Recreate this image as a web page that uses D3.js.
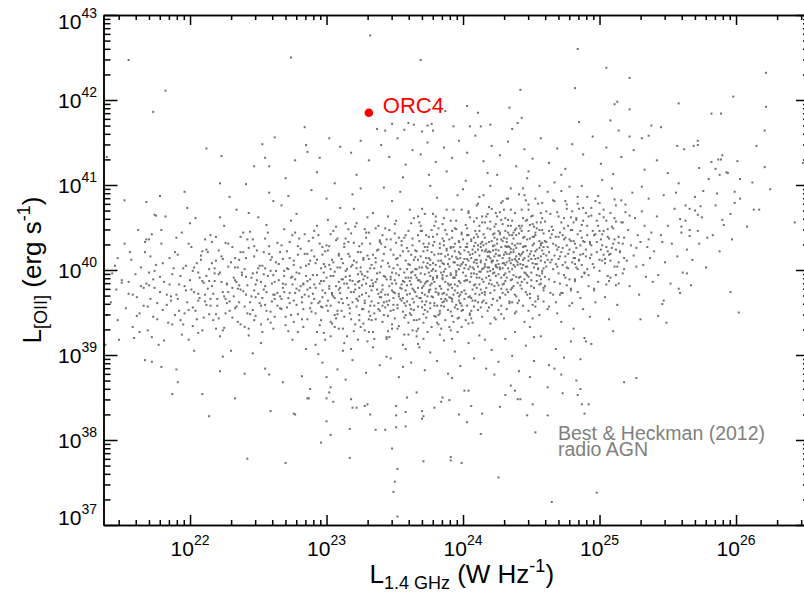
<!DOCTYPE html>
<html>
<head>
<meta charset="utf-8">
<script src="https://cdnjs.cloudflare.com/ajax/libs/d3/7.8.5/d3.min.js"></script>
<style>
  body { margin: 0; background: #fff; }
  svg { display: block; font-family: "Liberation Sans", Arial, Helvetica, sans-serif; }
</style>
</head>
<body>
<div id="chart"></div>
<script>
// every pair is [log10 L_1.4GHz (W/Hz), log10 L_[OII] (erg/s)]

// log L1.4 < 22.9
const agnFaint = [
[21.42,39.62],[21.45,40.05],[21.47,39.41],[21.50,39.88],[21.52,40.31],[21.53,39.55],[21.55,39.72],[21.57,40.12],[21.58,39.33],[21.60,39.95],
[21.61,39.68],[21.62,40.47],[21.63,39.49],[21.64,39.81],[21.46,39.77],
[21.66,39.58],[21.67,40.21],[21.68,39.84],[21.69,39.29],[21.70,39.97],[21.71,39.66],[21.72,40.42],[21.73,39.45],[21.74,39.79],[21.75,40.06],
[21.76,39.61],[21.77,39.12],[21.78,39.92],[21.79,40.31],[21.80,39.53],[21.81,39.86],[21.82,40.63],[21.83,39.71],[21.84,39.38],[21.85,40.14],
[21.86,39.64],[21.87,39.95],[21.88,40.02],[21.89,39.47],[21.70,39.82],
[21.90,39.71],[21.91,40.18],[21.92,39.52],[21.93,39.93],[21.94,40.44],[21.95,39.36],[21.96,39.81],[21.97,40.05],[21.98,39.62],[21.99,39.18],
[22.00,39.88],[22.01,40.27],[22.02,39.56],[22.03,39.74],[22.04,40.61],[22.05,39.42],[22.06,39.97],[22.07,39.67],[22.08,40.12],[22.09,39.29],
[22.10,39.85],[22.11,40.36],[22.12,39.59],[22.13,39.78],[22.14,40.01],[21.92,39.83],[21.96,39.49],[22.00,40.55],[22.03,39.05],[22.06,39.72],
[22.09,40.22],[22.12,39.93],[21.98,40.73],[22.14,39.48],[22.02,39.99],
[22.15,39.66],[22.16,40.08],[22.17,39.41],[22.18,39.87],[22.19,40.39],[22.20,39.58],[22.21,39.95],[22.22,39.22],[22.23,40.16],[22.24,39.74],
[22.25,40.52],[22.26,39.49],[22.27,39.83],[22.28,40.04],[22.29,39.63],[22.30,39.05],[22.31,40.27],[22.32,39.91],[22.33,39.55],[22.34,40.71],
[22.35,39.78],[22.36,40.12],[22.37,39.36],[22.38,39.97],[22.39,40.44],[22.16,39.81],[22.19,39.31],[22.22,40.62],[22.25,39.69],[22.28,40.31],
[22.31,39.44],[22.34,39.86],[22.37,40.21],[22.18,40.02],[22.24,38.98],[22.29,40.86],[22.33,40.03],[22.36,39.62],[22.39,39.75],[22.21,40.23],
[22.40,39.57],[22.41,40.14],[22.42,39.82],[22.43,39.31],[22.44,40.45],[22.45,39.69],[22.46,39.96],[22.47,40.28],[22.48,39.46],[22.49,39.88],
[22.50,40.62],[22.51,39.61],[22.52,39.14],[22.53,40.05],[22.54,39.77],[22.55,40.37],[22.56,39.52],[22.57,39.93],[22.58,40.19],[22.59,39.38],
[22.60,39.84],[22.61,40.81],[22.62,39.66],[22.63,40.09],[22.64,39.73],[22.41,39.92],[22.44,39.48],[22.47,39.76],[22.50,40.02],[22.53,39.27],
[22.56,40.53],[22.59,39.99],[22.62,39.45],[22.43,40.67],[22.46,39.02],[22.49,40.23],[22.52,39.86],[22.55,39.59],[22.58,40.91],[22.61,39.71],
[22.64,40.32],[22.42,40.36],[22.48,39.68],[22.54,39.95],[22.60,40.15],
[22.65,39.88],[22.66,40.21],[22.67,39.54],[22.68,39.79],[22.69,40.48],[22.70,39.35],[22.71,40.02],[22.72,39.67],[22.73,40.33],[22.74,39.91],
[22.75,39.18],[22.76,40.11],[22.77,39.73],[22.78,40.66],[22.79,39.48],[22.80,39.96],[22.81,40.25],[22.82,39.62],[22.83,39.84],[22.84,40.42],
[22.85,39.07],[22.86,39.77],[22.87,40.07],[22.88,39.55],[22.89,40.94],[22.66,39.69],[22.68,40.13],[22.70,39.83],[22.72,39.28],[22.74,40.58],
[22.76,39.64],[22.78,39.97],[22.80,40.37],[22.82,39.42],[22.84,39.71],[22.86,40.19],[22.88,39.89],[22.67,40.76],[22.71,39.56],[22.75,39.92],
[22.79,40.28],[22.83,39.33],[22.87,39.69],[22.69,39.99],[22.73,39.61],[22.77,40.44],[22.81,39.81],[22.85,40.05],[22.89,39.51],[22.72,40.87],
[21.58,39.71],[21.61,39.46],[21.64,40.03],[21.66,39.79],[21.69,39.57],[21.71,40.16],[21.73,39.89],[21.76,39.42],[21.78,39.74],[21.80,40.08],
[21.83,39.59],[21.85,39.83],[21.87,39.36],[21.89,40.21],[21.91,39.66],[21.93,39.41],[21.95,40.02],[21.97,39.76],[21.99,39.53],[21.63,39.27],
[21.72,39.21],[21.81,39.17],[21.94,39.24],[21.56,40.21],[21.67,40.33],[21.79,40.47],[21.90,40.38],[21.99,40.31],[21.74,39.99],[21.86,39.69],
[22.02,39.34],[22.05,40.08],[22.07,39.91],[22.11,39.63],[22.13,40.21],[22.17,39.72],[22.19,39.48],[22.23,39.86],[22.26,40.32],[22.27,39.61],
[22.31,39.79],[22.33,40.14],[22.35,39.39],[22.38,39.94],[22.41,39.71],[22.43,40.26],[22.46,39.53],[22.48,39.83],[22.51,40.05],[22.53,39.67],
[22.57,39.42],[22.59,40.12],[22.62,39.86],[22.64,39.58],[22.67,40.29],[22.69,39.74],[22.72,40.01],[22.74,39.47],[22.77,39.89],[22.79,40.18],
[22.82,39.68],[22.85,39.93],[22.87,40.34],[22.89,39.61],[22.01,39.77],[22.04,39.52],[22.08,40.17],[22.10,39.44],[22.14,39.87],[22.16,40.33],
[22.20,39.66],[22.22,39.97],[22.25,39.32],[22.28,39.74],[22.30,40.09],[22.34,39.57],[22.36,39.82],[22.39,40.21],[22.42,39.49],[22.45,39.91],
[22.47,40.16],[22.50,39.72],[22.52,39.36],[22.55,39.81],[22.58,40.28],[22.60,39.63],[22.63,39.99],[22.66,39.55],[22.68,39.84],[22.71,40.22],
[22.73,39.73],[22.76,39.39],[22.78,39.78],[22.81,40.03],[22.83,39.54],[22.86,39.87],[22.88,40.11],[22.03,40.03],[22.06,39.64],[22.09,39.87],
[22.12,40.24],[22.15,39.58],[22.18,39.96],[22.21,39.43],[22.24,40.13],[22.27,39.84],[22.29,39.52],[22.32,39.69],[22.35,40.03],[22.37,39.77],
[22.40,39.33],[22.44,39.62],[22.46,40.36],[22.49,39.97],[22.52,39.58],[22.54,40.21],[22.56,39.74],[22.59,39.51],[22.61,39.94],[22.65,40.07],
[22.67,39.66],[22.70,39.45],[22.73,40.14],[22.75,39.83],[22.78,39.59],[22.80,39.76],[22.84,40.19],[22.86,39.42],[22.88,39.79],[22.11,39.71],
[22.19,40.11],[22.26,39.66],[22.33,39.88],[22.40,40.01],[22.47,39.41],[22.55,40.02],[22.62,39.71],[22.69,39.93],[22.76,40.06],[22.83,39.83],
[22.06,39.26],[22.24,39.29],[22.43,39.23],[22.61,39.31],[22.79,39.27],[22.15,40.41],[22.37,40.39],[22.57,40.44],[22.75,40.41],[22.89,40.23]
];

// 22.9 - 23.9
const agnMid = [
[22.90,39.72],[22.91,40.16],[22.92,39.49],[22.93,39.94],[22.94,40.41],[22.95,39.63],[22.96,39.87],[22.97,40.27],[22.98,39.26],[22.99,40.04],
[23.00,39.58],[23.01,40.59],[23.02,39.81],[23.03,39.39],[23.04,40.12],[23.05,39.69],[23.06,39.98],[23.07,40.35],[23.08,39.52],[23.09,39.86],
[23.10,40.73],[23.11,39.66],[23.12,40.08],[23.13,39.14],[23.14,39.92],[22.91,39.83],[22.93,40.52],[22.95,39.35],[22.97,39.76],[22.99,40.22],
[23.01,39.64],[23.03,40.01],[23.05,40.46],[23.07,39.43],[23.09,40.17],[23.11,39.89],[23.13,40.31],[22.92,40.08],[22.96,39.57],[23.00,40.84],
[23.04,39.73],[23.08,40.03],[23.12,39.61],[22.94,39.01],[22.98,39.97],[23.02,40.28],[23.06,39.47],[23.10,39.79],[23.14,40.55],[22.90,40.38],
[22.97,39.68],[23.03,39.93],[23.09,39.31],[23.13,39.84],[23.06,41.02],
[23.15,39.67],[23.16,40.19],[23.17,39.88],[23.18,39.42],[23.19,40.06],[23.20,39.74],[23.21,40.51],[23.22,39.57],[23.23,39.95],[23.24,40.28],
[23.25,39.33],[23.26,39.82],[23.27,40.12],[23.28,39.64],[23.29,40.38],[23.30,39.91],[23.31,39.51],[23.32,40.02],[23.33,39.76],[23.34,40.67],
[23.35,39.19],[23.36,39.86],[23.37,40.23],[23.38,39.61],[23.39,39.97],[23.16,39.79],[23.18,40.43],[23.20,39.28],[23.22,40.09],[23.24,39.69],
[23.26,40.31],[23.28,39.93],[23.30,40.62],[23.32,39.46],[23.34,39.84],[23.36,40.14],[23.38,39.72],[23.17,39.55],[23.19,40.89],[23.21,39.83],
[23.23,40.21],[23.25,39.98],[23.27,39.37],[23.29,39.73],[23.31,40.44],[23.33,40.06],[23.35,39.58],[23.37,39.89],[23.39,40.35],[23.15,40.01],
[23.18,39.07],[23.22,39.66],[23.26,39.54],[23.30,40.17],[23.34,39.27],[23.38,40.52],[23.20,40.72],[23.24,39.87],[23.28,40.48],[23.32,39.81],
[23.36,39.42],[23.16,40.33],[23.25,40.96],[23.33,39.63],[23.39,39.52],
[23.40,39.68],[23.41,40.11],[23.42,39.47],[23.43,39.92],[23.44,40.36],[23.45,39.59],[23.46,39.81],[23.47,40.24],[23.48,39.36],[23.49,40.02],
[23.50,39.73],[23.51,40.58],[23.52,39.55],[23.53,39.94],[23.54,40.17],[23.55,39.64],[23.56,39.12],[23.57,39.86],[23.58,40.41],[23.59,39.71],
[23.60,40.07],[23.61,39.49],[23.62,39.97],[23.63,40.29],[23.64,39.62],[23.41,39.77],[23.43,40.49],[23.45,39.28],[23.47,39.89],[23.49,39.53],
[23.51,40.13],[23.53,39.69],[23.55,40.34],[23.57,39.44],[23.59,40.01],[23.61,40.71],[23.63,39.78],[23.42,40.19],[23.44,39.63],[23.46,40.04],
[23.48,39.84],[23.50,40.43],[23.52,39.31],[23.54,39.79],[23.56,40.22],[23.58,39.58],[23.60,39.91],[23.62,40.55],[23.64,39.41],[23.40,40.31],
[23.44,38.98],[23.48,40.81],[23.52,40.06],[23.56,39.67],[23.60,39.24],[23.64,40.12],[23.43,39.71],[23.47,39.52],[23.51,39.96],[23.55,39.83],
[23.59,40.26],[23.63,39.66],[23.41,39.39],[23.45,40.63],[23.49,39.74],[23.53,40.38],[23.57,39.61],[23.61,39.87],[23.46,39.21],[23.50,39.88],
[23.54,40.92],[23.58,39.76],[23.62,39.54],[23.42,40.97],[23.60,40.46],
[23.65,39.74],[23.66,40.22],[23.67,39.57],[23.68,40.03],[23.69,39.86],[23.70,40.46],[23.71,39.48],[23.72,39.95],[23.73,40.14],[23.74,39.69],
[23.75,40.31],[23.76,39.82],[23.77,39.33],[23.78,40.08],[23.79,39.61],[23.80,40.57],[23.81,39.91],[23.82,40.19],[23.83,39.52],[23.84,39.78],
[23.85,40.37],[23.86,39.98],[23.87,39.66],[23.88,40.25],[23.89,39.84],[23.66,39.91],[23.68,39.42],[23.70,39.79],[23.72,40.27],[23.74,40.02],
[23.76,39.55],[23.78,40.66],[23.80,39.74],[23.82,39.47],[23.84,40.11],[23.86,39.63],[23.88,40.42],[23.65,40.15],[23.67,39.88],[23.69,40.52],
[23.71,40.09],[23.73,39.63],[23.75,39.97],[23.77,40.21],[23.79,39.86],[23.81,39.38],[23.83,40.04],[23.85,39.72],[23.87,40.16],[23.89,39.53],
[23.66,39.28],[23.70,40.72],[23.74,39.51],[23.78,39.89],[23.82,40.49],[23.86,40.29],[23.68,40.34],[23.72,39.71],[23.76,40.06],[23.80,39.99],
[23.84,39.58],[23.88,39.93],[23.67,40.63],[23.71,39.19],[23.75,39.76],[23.79,40.33],[23.83,39.81],[23.87,39.41],[23.69,39.67],[23.73,40.41],
[23.77,39.69],[23.81,40.85],[23.85,39.94],[23.89,40.18],[23.66,40.01],[23.72,39.84],[23.78,40.39],[23.84,39.31],[23.70,39.56],[23.76,40.99],
[23.82,39.73],[23.88,39.71],[23.74,40.23],[23.80,39.45],[23.86,40.61],[23.68,39.09],[23.79,39.58],[23.85,40.08],[23.75,41.12],[23.83,40.26],
[22.91,39.66],[22.93,40.12],[22.96,39.41],[22.98,39.87],[23.01,40.23],[23.03,39.58],[23.05,39.93],[23.08,40.37],[23.10,39.73],[23.12,39.31],
[23.15,39.84],[23.17,40.16],[23.19,39.62],[23.22,40.02],[23.24,39.47],[23.26,39.95],[23.29,40.44],[23.31,39.69],[23.33,39.88],[23.36,40.09],
[23.38,39.54],[23.41,39.82],[23.43,40.27],[23.45,39.71],[23.48,39.97],[23.50,39.43],[23.52,40.14],[23.55,39.78],[23.57,40.38],[23.59,39.63],
[22.92,39.79],[22.95,40.31],[22.97,39.56],[23.00,39.91],[23.02,40.06],[23.04,39.37],[23.07,39.81],[23.09,40.19],[23.11,39.52],[23.14,39.99],
[23.16,40.48],[23.18,39.74],[23.21,39.36],[23.23,39.86],[23.25,40.21],[23.28,39.61],[23.30,39.98],[23.32,40.31],[23.35,39.49],[23.37,39.77],
[23.40,40.04],[23.42,39.62],[23.44,39.89],[23.47,40.36],[23.49,39.67],[23.51,39.84],[23.54,40.01],[23.56,39.51],[23.58,39.91],[23.60,40.22],
[22.90,39.94],[22.94,39.61],[22.99,39.73],[23.03,40.42],[23.06,39.67],[23.10,40.03],[23.13,39.45],[23.17,39.93],[23.20,40.11],[23.24,39.79],
[23.27,39.54],[23.31,40.13],[23.34,39.81],[23.38,40.24],[23.41,39.58],[23.45,40.08],[23.48,39.76],[23.52,39.59],[23.55,40.29],[23.59,39.82],
[22.93,39.27],[22.97,40.18],[23.01,39.52],[23.05,40.09],[23.09,39.62],[23.13,40.27],[23.17,39.49],[23.21,39.77],[23.25,40.03],[23.29,39.84],
[23.33,39.41],[23.37,39.96],[23.41,40.41],[23.45,39.46],[23.49,40.18],[23.53,39.72],[23.57,39.97],[23.60,39.38],[22.95,39.84],[23.00,40.29],
[23.04,39.71],[23.08,39.48],[23.12,39.89],[23.16,39.59],[23.20,40.32],[23.23,39.64],[23.27,40.14],[23.31,39.42],[23.35,40.02],[23.39,39.68],
[23.43,39.56],[23.47,39.92],[23.51,40.32],[23.54,39.66],[23.58,40.11],[22.91,40.46],[22.99,39.18],[23.07,40.51],[23.15,39.22],[23.22,40.55],
[23.30,39.16],[23.36,40.49],[23.44,39.19],[23.50,40.54],[23.57,39.24],[22.96,40.02],[23.02,39.78],[23.11,40.13],[23.19,39.87],[23.26,39.71],
[23.34,40.18],[23.42,39.93],[23.49,39.59],[23.56,39.87],[23.06,39.33],[23.14,40.37],[23.28,39.29],[23.39,40.33],[23.53,39.34],[23.46,40.47],
[23.18,40.04],[23.32,39.58],[23.40,39.74],[23.24,39.41],[23.48,39.31],[22.98,40.07],[23.09,39.77],[23.27,39.89],[23.46,39.64],[23.58,39.47],
[23.61,39.72],[23.62,40.18],[23.64,39.53],[23.65,39.94],[23.67,40.41],[23.68,39.67],[23.70,40.03],[23.71,39.38],[23.73,39.86],[23.74,40.27],
[23.76,39.61],[23.77,39.99],[23.79,40.52],[23.80,39.78],[23.82,40.11],[23.83,39.49],[23.85,39.89],[23.86,40.34],[23.88,39.64],[23.89,40.07],
[23.62,39.83],[23.63,40.37],[23.66,39.41],[23.68,39.88],[23.69,40.16],[23.72,39.59],[23.73,40.04],[23.75,39.74],[23.78,40.29],[23.79,39.46],
[23.81,39.93],[23.84,40.19],[23.85,39.62],[23.87,40.01],[23.61,40.06],[23.64,39.76],[23.67,39.31],[23.69,39.96],[23.71,40.31],[23.74,39.87],
[23.76,40.12],[23.78,39.68],[23.81,40.42],[23.83,39.81],[23.86,39.57],[23.88,40.23],[23.62,39.47],[23.65,40.23],[23.68,40.56],[23.70,39.63],
[23.73,39.44],[23.75,40.39],[23.77,39.84],[23.80,40.06],[23.82,39.36],[23.84,39.97],[23.87,40.47],[23.89,39.77],[23.63,39.98],[23.66,39.69],
[23.71,39.81],[23.74,40.08],[23.78,39.91],[23.82,39.71],[23.86,40.07],[23.64,40.61],[23.72,40.66],[23.80,40.63],[23.88,40.71],[23.66,39.22],
[23.74,39.27],[23.83,39.24],[23.61,39.59],[23.67,40.12],[23.72,39.53],[23.76,39.93],[23.79,40.18],[23.83,40.31],[23.87,39.86],[23.63,39.29],
[23.69,40.46],[23.77,40.47],[23.85,40.54],[23.65,40.01],[23.71,40.22],[23.76,39.77],[23.81,39.58],[23.86,39.73],[23.62,39.91],[23.70,39.73],
[23.78,40.01],[23.85,39.91],[23.67,39.79],[23.75,40.14],[23.84,39.66]
];

// 23.9 - 24.65, the densest part
const agnCore = [
[23.90,39.82],[23.91,40.27],[23.92,39.63],[23.93,40.09],[23.94,39.91],[23.95,40.48],[23.96,39.54],[23.97,40.01],[23.98,40.19],[23.99,39.74],
[24.00,40.36],[24.01,39.87],[24.02,39.41],[24.03,40.13],[24.04,39.68],[24.05,40.62],[24.06,39.96],[24.07,40.24],[24.08,39.57],[24.09,39.83],
[24.10,40.42],[24.11,40.04],[24.12,39.71],[24.13,40.31],[24.14,39.89],[23.90,40.13],[23.92,39.46],[23.94,40.22],[23.96,40.06],[23.98,39.61],
[24.00,39.97],[24.02,40.53],[24.04,40.11],[24.06,39.52],[24.08,40.38],[24.10,39.79],[24.12,40.17],[24.14,40.56],[23.91,39.94],[23.93,39.71],
[23.95,39.99],[23.97,40.33],[23.99,40.07],[24.01,39.66],[24.03,39.88],[24.05,40.18],[24.07,39.77],[24.09,40.46],[24.11,39.62],[24.13,39.98],
[23.90,39.33],[23.93,40.71],[23.96,39.81],[23.99,40.44],[24.02,39.93],[24.05,39.49],[24.08,40.09],[24.11,40.29],[24.14,39.73],[23.92,40.38],
[23.95,39.59],[23.98,39.85],[24.01,40.23],[24.04,39.37],[24.07,40.03],[24.10,40.12],[24.13,39.56],[23.91,40.58],[23.94,39.76],[23.97,39.69],
[24.00,40.09],[24.03,40.41],[24.06,40.14],[24.09,39.64],[24.12,39.91],[23.90,40.04],[23.94,40.49],[23.98,40.27],[24.02,39.72],[24.06,40.34],
[24.10,39.95],[24.14,40.23],[23.92,39.19],[23.96,40.88],[24.00,39.53],[24.04,40.67],[24.08,39.96],[24.12,40.52],[23.93,39.91],[23.97,39.44],
[24.01,40.02],[24.05,39.86],[24.09,40.21],[24.13,40.09],[23.95,40.15],[23.99,39.58],[24.03,40.27],[24.07,39.38],[24.11,40.78],[23.91,39.67],
[24.00,40.95],[24.06,39.67],[24.12,39.83],[23.96,39.27],[24.04,40.01],[24.10,40.61],[23.94,40.31],[24.08,40.28],[24.14,39.45],[24.02,41.05],
[24.15,40.02],[24.16,40.38],[24.17,39.79],[24.18,40.21],[24.19,39.93],[24.20,40.57],[24.21,40.11],[24.22,39.66],[24.23,40.29],[24.24,40.04],
[24.25,39.85],[24.26,40.46],[24.27,40.17],[24.28,39.58],[24.29,40.08],[24.30,40.71],[24.31,39.96],[24.32,40.33],[24.33,39.74],[24.34,40.19],
[24.35,40.52],[24.36,39.89],[24.37,40.06],[24.38,39.49],[24.39,40.26],[24.16,39.71],[24.18,40.49],[24.20,40.14],[24.22,40.01],[24.24,39.42],
[24.26,40.23],[24.28,40.36],[24.30,39.84],[24.32,40.09],[24.34,39.61],[24.36,40.41],[24.38,40.13],[24.15,40.29],[24.17,40.63],[24.19,40.16],
[24.21,39.83],[24.23,39.97],[24.25,40.31],[24.27,39.68],[24.29,40.54],[24.31,40.21],[24.33,40.02],[24.35,39.77],[24.37,40.37],[24.39,39.92],
[24.16,40.07],[24.19,39.56],[24.22,40.42],[24.25,40.11],[24.28,39.91],[24.31,40.61],[24.34,40.27],[24.37,39.81],[24.15,39.64],[24.18,39.98],
[24.21,40.34],[24.24,40.67],[24.27,40.03],[24.30,40.18],[24.33,40.44],[24.36,40.12],[24.39,39.69],[24.17,40.24],[24.20,39.88],[24.23,40.51],
[24.26,39.95],[24.29,39.73],[24.32,40.27],[24.35,40.08],[24.38,40.47],[24.16,40.56],[24.20,39.37],[24.24,40.19],[24.28,40.79],[24.32,39.54],
[24.36,40.31],[24.15,40.88],[24.19,40.33],[24.23,39.76],[24.27,40.42],[24.31,39.87],[24.35,40.96],[24.39,40.11],[24.18,40.16],[24.22,40.23],
[24.26,39.53],[24.30,40.38],[24.34,39.98],[24.38,39.27],[24.17,39.91],[24.21,40.72],[24.25,39.64],[24.29,40.14],[24.33,40.59],[24.37,40.21],
[24.16,39.18],[24.20,40.99],[24.24,40.06],[24.28,39.78],[24.32,40.84],[24.36,39.62],[24.19,40.03],[24.23,40.38],[24.27,40.68],[24.31,40.06],
[24.35,40.25],[24.39,40.49],[24.25,41.12],[24.30,39.43],[24.34,40.11],
[24.40,40.06],[24.41,40.43],[24.42,39.82],[24.43,40.19],[24.44,40.61],[24.45,39.97],[24.46,40.28],[24.47,39.71],[24.48,40.11],[24.49,40.37],
[24.50,39.88],[24.51,40.54],[24.52,40.03],[24.53,39.63],[24.54,40.24],[24.55,40.78],[24.56,39.93],[24.57,40.16],[24.58,40.47],[24.59,39.76],
[24.60,40.09],[24.61,40.33],[24.62,39.54],[24.63,40.21],[24.64,40.66],[24.41,39.91],[24.43,40.52],[24.45,40.14],[24.47,40.36],[24.49,39.67],
[24.51,40.08],[24.53,40.41],[24.55,40.01],[24.57,39.84],[24.59,40.27],[24.61,40.69],[24.63,39.89],[24.40,40.31],[24.42,40.17],[24.44,39.58],
[24.46,40.04],[24.48,40.71],[24.50,40.22],[24.52,39.79],[24.54,40.49],[24.56,40.34],[24.58,39.96],[24.60,40.57],[24.62,40.12],[24.64,39.73],
[24.41,40.89],[24.44,40.27],[24.47,39.94],[24.50,40.63],[24.53,40.13],[24.56,39.47],[24.59,40.43],[24.62,40.92],[24.40,39.61],[24.43,39.86],
[24.46,40.58],[24.49,40.19],[24.52,40.39],[24.55,39.69],[24.58,40.23],[24.61,40.04],[24.64,40.38],[24.42,40.49],[24.45,39.39],[24.48,39.92],
[24.51,40.29],[24.54,39.87],[24.57,40.56],[24.60,39.81],[24.63,40.46],[24.41,40.13],[24.46,40.82],[24.51,39.59],[24.56,40.99],[24.61,40.17],
[24.44,40.96],[24.49,39.33],[24.54,40.07],[24.59,39.63],[24.64,40.09],[24.43,40.02],[24.48,40.46],[24.53,40.84],[24.58,39.99],[24.63,39.57],
[24.47,41.08],[24.52,39.21],[24.57,40.31],[24.62,40.27],[24.45,40.39],
[23.91,39.83],[23.92,40.46],[23.94,39.56],[23.95,39.97],[23.97,40.21],[23.98,39.71],[23.90,40.36],[23.91,39.51],[23.93,39.91],[23.96,40.13],
[23.98,39.61],[23.99,40.42],[23.91,39.96],[23.93,40.27],[23.96,39.73],[23.98,40.05],[23.92,39.66],[23.94,40.09],[23.97,39.87],[23.99,39.52],
[23.90,39.68],[23.94,39.83],[23.97,40.34],[23.95,40.58],[23.91,39.29],[23.99,39.33],[23.92,40.16],[23.96,39.43],[23.93,39.39],[23.99,40.71],
[23.91,40.26],[23.95,39.94],[23.92,39.79],[23.98,40.14],[23.97,39.64],
[24.01,40.13],[24.02,39.88],[24.04,40.41],[24.05,39.69],[24.07,40.19],[24.08,40.57],[24.10,39.91],[24.11,40.24],[24.13,39.77],[24.14,40.33],
[24.16,40.04],[24.17,39.61],[24.19,40.22],[24.20,40.48],[24.22,39.96],[24.23,40.16],[24.25,40.63],[24.26,39.82],[24.28,40.27],[24.29,40.02],
[24.31,39.71],[24.32,40.37],[24.34,40.14],[24.35,40.71],[24.37,39.94],[24.38,40.29],[24.40,39.85],[24.41,40.19],[24.43,40.46],[24.44,40.06],
[24.46,39.74],[24.47,40.23],[24.49,40.53],[24.50,39.97],[24.52,40.31],[24.53,40.07],[24.55,39.66],[24.56,40.26],[24.58,40.61],[24.59,40.02],
[24.02,40.27],[24.03,39.58],[24.05,40.04],[24.06,40.36],[24.08,39.82],[24.09,40.12],[24.11,39.53],[24.12,40.46],[24.14,40.01],[24.15,39.86],
[24.17,40.31],[24.18,40.66],[24.20,39.73],[24.21,40.09],[24.23,40.43],[24.24,39.93],[24.26,40.17],[24.27,39.67],[24.29,40.34],[24.30,40.08],
[24.32,39.91],[24.33,40.52],[24.35,40.21],[24.36,39.79],[24.38,40.04],[24.39,40.41],[24.41,39.64],[24.42,40.31],[24.44,40.12],[24.45,39.89],
[24.47,40.59],[24.48,40.16],[24.50,39.81],[24.51,40.39],[24.53,40.22],[24.54,39.94],[24.56,40.47],[24.57,40.11],[24.59,39.79],[24.60,40.34],
[24.01,39.76],[24.04,40.21],[24.06,39.92],[24.09,40.32],[24.12,39.98],[24.14,40.63],[24.17,40.12],[24.19,39.84],[24.22,40.28],[24.24,40.54],
[24.27,40.01],[24.29,39.83],[24.32,40.19],[24.34,39.63],[24.37,40.44],[24.39,40.16],[24.42,39.92],[24.44,40.38],[24.47,40.04],[24.49,39.72],
[24.52,40.17],[24.54,40.56],[24.57,39.89],[24.59,40.19],[24.03,40.49],[24.05,39.47],[24.08,40.01],[24.10,40.76],[24.13,40.11],[24.15,40.42],
[24.18,39.52],[24.20,40.21],[24.23,39.81],[24.25,40.36],[24.28,40.59],[24.30,39.94],[24.33,40.28],[24.35,39.88],[24.38,40.67],[24.40,40.09],
[24.43,39.78],[24.45,40.28],[24.48,40.77],[24.50,40.13],[24.53,39.57],[24.55,40.02],[24.58,40.32],[24.60,39.92],[24.02,40.06],[24.07,39.64],
[24.11,40.39],[24.16,40.22],[24.21,39.59],[24.26,40.07],[24.31,40.46],[24.36,40.01],[24.41,40.52],[24.46,39.96],[24.51,40.64],[24.56,39.83],
[24.04,40.69],[24.09,39.72],[24.14,39.62],[24.19,40.74],[24.24,40.24],[24.28,39.48],[24.33,40.84],[24.38,39.71],[24.43,40.71],[24.48,39.52],
[24.53,40.44],[24.58,40.79],[24.06,39.43],[24.12,40.86],[24.18,40.03],[24.23,39.44],[24.29,40.81],[24.34,40.41],[24.39,39.51],[24.45,40.88],
[24.51,39.43],[24.57,40.67],[24.03,40.31],[24.10,40.08],[24.16,39.74],[24.22,40.11],[24.27,40.44],[24.32,39.77],[24.37,40.24],[24.42,40.07],
[24.47,39.85],[24.52,40.51],[24.57,40.29],[24.13,40.27],[24.20,39.99],[24.25,40.03],[24.31,40.28],[24.36,40.58],[24.44,40.21],[24.55,40.14]
];

// log L1.4 > 24.65
const agnBright = [
[24.65,40.12],[24.66,40.47],[24.67,39.86],[24.68,40.29],[24.69,40.04],[24.70,40.63],[24.71,39.71],[24.72,40.21],[24.73,40.41],[24.74,39.94],
[24.75,40.16],[24.76,40.77],[24.77,40.02],[24.78,39.58],[24.79,40.34],[24.80,40.09],[24.81,40.56],[24.82,39.89],[24.83,40.26],[24.84,40.86],
[24.85,40.11],[24.86,39.67],[24.87,40.38],[24.88,40.19],[24.89,39.97],[24.66,40.01],[24.68,39.62],[24.70,40.27],[24.72,40.93],[24.74,40.36],
[24.76,39.82],[24.78,40.24],[24.80,40.69],[24.82,40.31],[24.84,39.74],[24.86,40.46],[24.88,40.58],[24.65,40.51],[24.67,40.17],[24.69,39.49],
[24.71,40.44],[24.73,40.06],[24.75,39.91],[24.77,40.52],[24.79,39.76],[24.81,40.14],[24.83,40.03],[24.85,40.72],[24.87,39.92],[24.89,40.33],
[24.66,40.82],[24.70,39.96],[24.74,40.61],[24.78,40.98],[24.82,40.07],[24.86,40.18],[24.68,40.39],[24.72,39.39],[24.76,40.29],[24.80,39.61],
[24.84,40.42],[24.88,39.54],[24.67,41.03],[24.71,40.16],[24.75,40.81],[24.79,40.47],[24.83,40.61],[24.87,40.99],[24.73,39.73],[24.81,39.31],
[24.90,40.16],[24.91,40.52],[24.92,39.94],[24.93,40.33],[24.94,40.73],[24.95,40.07],[24.96,39.78],[24.97,40.42],[24.98,40.21],[24.99,40.87],
[25.00,39.99],[25.01,40.36],[25.02,40.11],[25.03,40.62],[25.04,39.68],[25.05,40.27],[25.06,40.48],[25.07,39.87],[25.08,40.19],[25.09,40.96],
[25.10,40.31],[25.11,40.04],[25.12,40.57],[25.13,39.59],[25.14,40.39],[24.91,40.01],[24.94,40.29],[24.97,39.62],[25.00,40.46],[25.03,40.18],
[25.06,39.93],[25.09,40.51],[25.12,40.24],[24.92,40.63],[24.96,40.41],[25.00,40.79],[25.04,40.13],[25.08,40.67],[25.12,39.82],[24.93,39.45],
[24.98,40.58],[25.02,41.06],[25.07,40.37],[25.11,40.83],[25.14,40.09],
[25.15,40.21],[25.16,40.56],[25.17,39.96],[25.18,40.38],[25.19,40.77],[25.20,40.11],[25.21,40.47],[25.22,39.81],[25.23,40.29],[25.24,40.91],
[25.25,40.17],[25.26,40.61],[25.27,40.04],[25.28,40.41],[25.29,39.71],[25.30,40.33],[25.31,40.69],[25.32,40.06],[25.33,40.52],[25.34,39.92],
[25.35,40.27],[25.36,40.84],[25.37,40.14],[25.38,40.44],[25.39,39.86],[25.18,40.01],[25.22,40.64],[25.27,40.26],[25.31,40.98],[25.36,40.36],
[25.40,40.22],[25.42,40.63],[25.43,39.94],[25.45,40.41],[25.47,40.88],[25.48,40.09],[25.50,40.52],[25.52,39.84],[25.53,40.31],[25.55,40.72],
[25.57,40.16],[25.58,41.02],[25.60,40.44],[25.61,39.97],[25.63,40.58],[25.64,40.24],[25.46,40.33],[25.56,40.91],
[25.66,40.47],[25.68,40.12],[25.70,40.86],[25.73,40.31],[25.75,40.62],[25.78,40.03],[25.80,41.07],[25.83,40.41],[25.85,40.76],[25.88,40.22],
[25.91,40.53],[25.94,41.14],[25.97,40.36],[26.03,40.84],[26.08,40.51],[26.12,41.03],[26.17,40.71],[26.25,40.95],
[24.66,40.31],[24.68,40.07],[24.69,40.68],[24.71,39.84],[24.73,40.26],[24.74,40.49],[24.76,40.03],[24.78,40.36],[24.79,39.78],[24.81,40.21],
[24.83,40.59],[24.84,40.01],[24.86,40.29],[24.88,40.73],[24.89,39.96],[24.91,40.41],[24.93,40.14],[24.94,40.64],[24.96,40.03],[24.98,40.33],
[24.99,39.86],[25.01,40.24],[25.03,40.71],[25.04,40.08],[25.06,40.39],[25.08,39.91],[25.09,40.26],[25.11,40.61],[25.13,40.04],[25.14,40.32],
[25.16,40.82],[25.18,40.14],[24.65,40.42],[24.67,40.81],[24.70,40.13],[24.72,39.73],[24.75,40.38],[24.77,40.19],[24.80,40.47],[24.82,39.87],
[24.85,40.12],[24.87,40.53],[24.90,40.24],[24.92,39.81],[24.95,40.46],[24.97,40.81],[25.00,40.12],[25.02,40.42],[25.05,39.83],[25.07,40.18],
[25.10,40.49],[25.12,39.94],[25.15,40.22],[25.17,40.56],[24.66,39.71],[24.69,40.24],[24.72,40.56],[24.75,40.09],[24.78,39.89],[24.81,40.34],
[24.84,40.78],[24.87,40.06],[24.90,40.67],[24.93,40.31],[24.96,39.76],[24.99,40.52],[25.02,40.29],[25.05,40.58],[25.08,40.11],[25.11,40.36],
[25.14,39.84],[25.17,40.31],[25.19,40.68],[24.70,40.39],[24.76,40.72],[24.82,40.14],[24.88,40.34],[24.94,40.18],[25.00,40.66],[25.06,40.22],
[25.12,40.76],[24.79,40.62],[24.91,40.86],[25.03,40.46]
];

// the scattered points round the edges of the cloud
const agnSparse = [
[21.55,42.47],[22.74,42.50],[21.82,42.11],[21.73,41.86],[21.39,41.33],[22.12,41.43],[22.23,41.34],[22.84,41.68],[22.62,41.56],[22.53,41.48],
[22.85,41.47],[22.86,41.39],[22.55,41.32],[22.77,41.29],[21.52,40.82],[21.47,40.14],[21.68,40.80],[21.78,40.87],[21.96,40.92],[22.22,41.02],
[22.41,41.01],[22.47,41.22],[22.58,41.22],[21.74,40.65],[21.75,40.64],[21.68,40.36],[21.70,40.36],
[21.39,39.47],[21.38,39.12],[21.48,39.18],[21.59,39.20],[21.43,39.96],[21.50,39.85],[21.55,39.86],[21.67,38.94],[21.72,38.92],[21.79,38.86],
[21.87,38.54],[21.90,38.83],[21.91,38.68],[22.09,38.54],[22.14,38.28],[22.22,38.81],[22.33,38.49],[22.42,37.78],[22.40,38.78],[22.59,38.34],
[22.70,37.73],[22.76,38.31],[22.77,38.30],[22.68,38.68],[22.86,38.49],[22.87,38.49],[22.88,38.60],[22.96,37.97],[23.00,38.22],[23.03,38.06],
[23.00,38.49],[23.02,38.56],[22.82,38.75],[22.55,38.84],[22.58,38.77],[23.00,38.74],[23.03,38.62],
[23.17,38.13],[23.17,37.79],[23.36,38.12],[23.43,38.12],[23.48,37.90],[23.52,37.66],[23.50,37.51],[23.49,37.39],[23.52,37.10],[23.71,37.75],
[23.91,37.80],[23.91,37.76],[23.99,37.73],[24.26,37.56],[24.65,37.27],[24.13,38.07],[24.53,38.09],[24.47,38.29],[24.62,38.29],[24.51,38.42],
[24.73,38.55],[24.03,38.21],[23.97,38.30],[24.14,38.31],[24.27,38.39],[24.06,38.40],[23.70,38.25],[23.71,38.28],[23.58,38.16],[23.51,38.15],
[23.51,38.29],[23.51,38.40],[23.58,38.33],[23.79,38.38],[23.32,38.30],[23.05,38.45],[23.19,38.38],[23.28,38.40],[23.22,38.38],[23.30,38.42],
[23.18,38.48],[23.59,38.50],[23.66,38.56],[23.70,38.34],[23.85,38.50],[23.84,38.45],[23.90,38.47],[24.01,38.58],[24.04,38.58],[24.31,38.53],
[24.40,38.48],[24.42,38.48],[24.38,38.58],[24.35,38.64],[24.62,38.62],[24.67,38.84],[24.72,38.77],
[22.92,39.12],[22.97,38.91],[23.03,39.22],[23.08,38.83],[23.12,39.05],[23.19,38.94],[23.23,39.18],[23.29,38.79],[23.34,39.09],[23.39,38.88],
[23.44,39.21],[23.47,38.96],[23.53,38.74],[23.58,39.07],[23.62,38.91],[23.67,39.13],[23.72,38.82],[23.76,39.03],[23.81,38.93],[23.86,39.17],
[23.89,38.78],[23.94,39.04],[23.98,38.87],[24.04,39.14],[24.08,38.96],[24.12,39.23],[24.17,38.84],[24.21,39.06],[24.26,38.92],[24.31,39.19],
[24.36,38.99],[24.41,38.81],[24.46,39.11],[24.52,38.93],[24.57,39.22],[24.63,38.88],[24.68,39.07],[24.74,38.97],[24.79,39.16],[23.14,38.71],
[23.56,38.86],[23.92,38.73],[24.23,38.77],[24.49,38.74],[23.31,39.27],
[24.86,38.95],[24.83,38.70],[24.86,38.60],[24.84,38.53],[24.87,38.42],[24.92,38.42],[24.89,38.31],[24.98,37.38],[25.18,38.68],[25.27,38.73],
[24.89,39.20],[24.90,39.16],[24.94,39.13],[25.96,39.74],[26.02,39.50],[25.67,39.82],[25.49,39.38],[25.43,39.46],[25.30,39.42],[25.07,39.42],
[25.10,39.28],[25.46,39.60],[25.47,39.64],[25.58,39.78],[25.59,39.73],[25.64,39.96],
[24.84,42.60],[25.05,42.38],[25.22,42.26],[24.82,42.14],[25.22,41.89],[25.11,41.95],[25.13,41.98],[25.58,41.96],[25.98,42.04],[26.22,42.32],
[26.22,41.92],[25.82,41.84],[25.89,41.84],[26.21,41.64],[26.15,41.46],[26.21,41.21],[26.49,41.26],[26.43,40.56],[26.13,40.71],[26.01,41.28],
[26.03,41.07],[25.99,40.92],[25.99,40.79],[25.96,40.66],[25.90,40.59],[25.86,40.90],[25.89,41.30],[25.90,41.35],[25.87,41.30],[25.88,41.12],
[25.85,41.19],[25.93,41.15],[25.82,41.27],[25.73,41.20],[25.76,40.93],[25.74,40.75],[25.72,40.65],[25.70,40.70],[25.66,40.72],[25.63,40.76],
[25.79,40.38],[25.72,40.46],[25.66,40.40],[25.60,40.51],[25.59,40.60],[25.72,41.52],[25.72,41.47],[25.69,41.46],[25.62,41.42],[25.57,41.46],
[25.45,41.68],[25.38,41.70],[25.36,41.58],[25.31,41.55],[25.14,41.64],[25.08,41.76],[24.85,41.74],[25.22,41.57],
[23.32,42.76],[23.69,42.47],[24.42,42.12],[24.34,41.91],[24.03,41.93],[24.11,41.85],[23.87,41.87],[23.32,41.85],[23.48,41.72],[23.60,41.73],
[23.64,41.71],[23.74,41.70],[23.77,41.72],[23.93,41.69],[24.05,41.69],[24.13,41.69],[24.20,41.71],[24.40,41.73],[24.43,41.79],[24.36,41.66],
[23.37,41.66],[23.43,41.64],[23.57,41.65],[23.70,41.63],[23.78,41.64],
[23.10,41.45],[23.18,41.38],[23.25,41.52],[23.31,41.29],[23.40,41.47],[23.46,41.33],[23.52,41.55],[23.58,41.24],[23.63,41.41],[23.69,41.36],
[23.74,41.50],[23.80,41.27],[23.86,41.44],[23.92,41.32],[23.97,41.52],[24.03,41.38],[24.09,41.58],[24.15,41.28],[24.21,41.46],[24.27,41.35],
[24.33,41.51],[24.39,41.22],[24.45,41.42],[24.51,41.31],[24.57,41.55],[24.63,41.26],[24.69,41.43],[24.75,41.19],[24.80,41.48],[24.88,41.36],
[24.95,41.57],[25.01,41.25],[25.05,41.44],[25.16,41.33],[25.25,41.41],[25.33,41.18],[25.42,41.29],[25.50,41.14],[22.95,41.32],[23.02,41.55],
[22.70,41.08],[22.93,41.15],[23.22,41.12],[23.56,41.09],[23.88,41.16],[24.18,41.14],[24.48,41.16],[24.72,41.12],[25.10,41.13]
];

const orc4 = { name: "ORC4", lRadio: 23.31, lOII: 41.85 };

const xDecades = [22, 23, 24, 25, 26];
const yDecades = [37, 38, 39, 40, 41, 42, 43];
const noteLines = ["Best & Heckman (2012)", "radio AGN"];

const width = 804, height = 594;
const plotLeft = 103.5, plotRight = 810, plotTop = 15, plotBottom = 525;

const svg = d3.select("#chart").append("svg")
  .attr("width", width).attr("height", height);

const x = d3.scaleLog()
  .domain([Math.pow(10, 21.366), Math.pow(10, 26.542)])
  .range([plotLeft, plotRight]);
const y = d3.scaleLog()
  .domain([1e37, 1e43])
  .range([plotBottom, plotTop]);

const agn = agnFaint.concat(agnMid, agnCore, agnBright, agnSparse);

// points
svg.append("g")
  .attr("fill", "#6f6f6f")
  .selectAll("rect")
  .data(agn)
  .join("rect")
    .attr("x", d => x(Math.pow(10, d[0])) - 1)
    .attr("y", d => y(Math.pow(10, d[1])) - 1)
    .attr("width", 2)
    .attr("height", 2);

// ORC4
svg.append("circle")
  .attr("cx", x(Math.pow(10, orc4.lRadio)))
  .attr("cy", y(Math.pow(10, orc4.lOII)))
  .attr("r", 4.3)
  .attr("fill", "#ff0000");
svg.append("text")
  .attr("x", x(Math.pow(10, orc4.lRadio)) + 14)
  .attr("y", y(Math.pow(10, orc4.lOII)))
  .attr("font-size", 22)
  .attr("fill", "#ff0000")
  .text(orc4.name);

// ticks
function minorOf(scale, decades) {
  const [lo, hi] = scale.domain();
  const out = [];
  d3.range(decades[0] - 1, decades[decades.length - 1] + 1).forEach(p => {
    for (let m = 2; m <= 9; m++) {
      const v = m * Math.pow(10, p);
      if (v > lo && v < hi) out.push(v);
    }
  });
  return out;
}
const xMajor = xDecades.map(p => Math.pow(10, p));
const yMajor = yDecades.map(p => Math.pow(10, p));
const xMinor = minorOf(x, xDecades);
const yMinor = minorOf(y, yDecades);

function axisLayer(axis, vals, size, transform) {
  const g = svg.append("g")
    .attr("transform", transform)
    .call(axis.tickValues(vals).tickSizeInner(size).tickSizeOuter(0).tickFormat(""));
  g.selectAll("line, path").attr("stroke", "#000").attr("stroke-width", 1.5);
  g.selectAll("text").remove();
  return g;
}

axisLayer(d3.axisBottom(x), xMajor, -10, `translate(0,${plotBottom})`);
axisLayer(d3.axisBottom(x), xMinor, -5, `translate(0,${plotBottom})`);
axisLayer(d3.axisTop(x), xMajor, -10, `translate(0,${plotTop})`);
axisLayer(d3.axisTop(x), xMinor, -5, `translate(0,${plotTop})`);
axisLayer(d3.axisLeft(y), yMajor, -14, `translate(${plotLeft},0)`);
axisLayer(d3.axisLeft(y), yMinor, -7, `translate(${plotLeft},0)`);
axisLayer(d3.axisRight(y), yMajor, -14, `translate(${plotRight},0)`);
axisLayer(d3.axisRight(y), yMinor, -7, `translate(${plotRight},0)`);

// tick labels as 10^n
function powerLabel(sel, p) {
  sel.append("tspan").attr("font-size", 21).text("10");
  sel.append("tspan").attr("font-size", 14).attr("dy", -11).text(p);
}
xDecades.forEach(p => {
  svg.append("text")
    .attr("x", x(Math.pow(10, p)))
    .attr("y", 556)
    .attr("text-anchor", "middle")
    .call(powerLabel, p);
});
yDecades.forEach(p => {
  let shift = 8;
  if (p === 43) shift = 14;
  if (p === 37) shift = 0;
  svg.append("text")
    .attr("x", 97)
    .attr("y", y(Math.pow(10, p)) + shift)
    .attr("text-anchor", "end")
    .call(powerLabel, p);
});

// axis titles
function titleParts(sel, sub, sup) {
  sel.append("tspan").text("L");
  sel.append("tspan").attr("font-size", 18).attr("dy", 6).text(sub);
  sel.append("tspan").attr("dy", -6).text(sup);
  sel.append("tspan").attr("font-size", 18).attr("dy", -11).text("-1");
  sel.append("tspan").attr("dy", 11).text(")");
}
svg.append("text")
  .attr("x", (plotLeft + plotRight) / 2 + 5)
  .attr("y", 583)
  .attr("text-anchor", "middle")
  .attr("font-size", 26)
  .call(titleParts, "1.4 GHz", " (W Hz");

svg.append("text")
  .attr("transform", `translate(41,${(plotTop + plotBottom) / 2}) rotate(-90)`)
  .attr("text-anchor", "middle")
  .attr("font-size", 26)
  .call(titleParts, "[OII]", " (erg s");

// source note
svg.append("g")
  .attr("fill", "#808080")
  .attr("font-size", 19.5)
  .selectAll("text")
  .data(noteLines)
  .join("text")
    .attr("x", 558)
    .attr("y", (d, i) => 440 + i * 16)
    .text(d => d);
</script>
</body>
</html>
